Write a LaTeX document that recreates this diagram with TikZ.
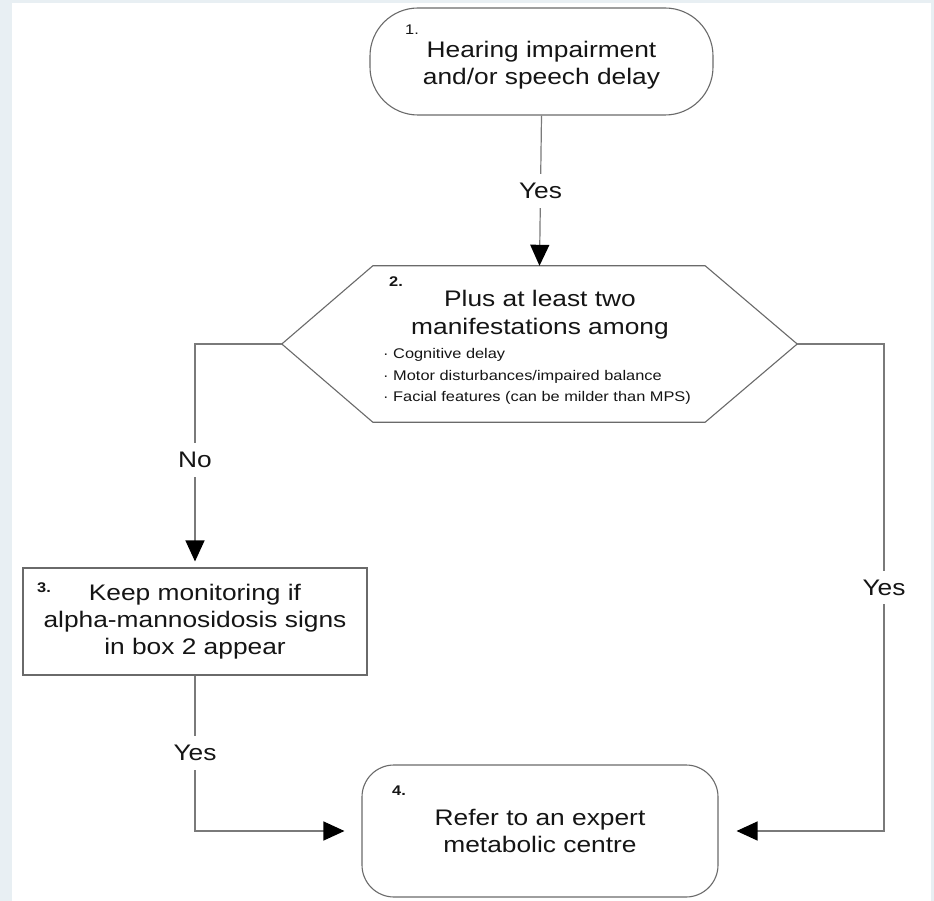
\documentclass[tikz,border=0pt]{standalone}
\usepackage{fontspec}
\setmainfont[FakeStretch=1.17]{Liberation Sans}
\usetikzlibrary{arrows.meta}
\definecolor{bgframe}{HTML}{E8EFF3}
\definecolor{linegray}{HTML}{7A7A7A}
\definecolor{boxgray}{HTML}{6A6A6A}
\definecolor{txt}{HTML}{151515}
\begin{document}
\begin{tikzpicture}[x=1pt,y=-1pt,
  mainfont/.style={font=\fontsize{22.5}{27}\selectfont, text=txt},
  smallfont/.style={font=\fontsize{14}{21}\selectfont, text=txt},
  boxline/.style={draw=boxgray, line width=1.1pt, fill=white},
  conn/.style={draw=linegray, line width=1.2pt},
  arr/.style={conn, -{Triangle[width=19pt,length=21pt,black]}},
  lbl/.style={mainfont, fill=white, inner xsep=2pt, inner ysep=9pt},
  numlbl/.style={font=\fontsize{14}{16}\selectfont\bfseries, text=txt, inner sep=0pt}
]
\fill[bgframe] (0,0) rectangle (934,901);
\fill[white] (12,3) rectangle (931,901);
\useasboundingbox (0,0) rectangle (934,901);

% Box 1
\node[boxline, rounded corners=48pt, minimum width=343pt, minimum height=107pt,
      inner sep=0pt] (b1) at (541.5,61.5) {};
\node[mainfont, align=center, inner sep=0pt] (b1t) at (541.5,65)
      {Hearing impairment\\and/or speech delay};
\node[font=\fontsize{14}{16}\selectfont, text=txt, inner sep=0pt, anchor=base west] (n1) at (405,35) {1.};

% Box 2 (hexagon)
\node[minimum width=515pt, minimum height=156pt, inner sep=0pt] (b2) at (539.5,344) {};
\draw[boxline] (b2.west) -- ([xshift=91pt]b2.north west) -- ([xshift=-92pt]b2.north east)
  -- (b2.east) -- ([xshift=-92pt]b2.south east) -- ([xshift=91pt]b2.south west) -- cycle;
\node[numlbl, anchor=base west] (n2) at (389,287) {2.};
\node[mainfont, anchor=base, inner sep=0pt] (b2ta) at (540,306) {Plus at least two};
\node[mainfont, anchor=base, inner sep=0pt] (b2tb) at (540,334) {manifestations among};
\node[smallfont, anchor=base west, inner sep=0pt] (b2la) at (383,358) {· Cognitive delay};
\node[smallfont, anchor=base west, inner sep=0pt] (b2lb) at (383,380) {· Motor disturbances/impaired balance};
\node[smallfont, anchor=base west, inner sep=0pt] (b2lc) at (383,401) {· Facial features (can be milder than MPS)};

% Box 3
\node[boxline, minimum width=344pt, minimum height=107pt, mainfont, align=center,
      inner sep=0pt] (b3) at (195,621.5)
      {Keep monitoring if\\alpha-mannosidosis signs\\in box 2 appear};
\node[numlbl, anchor=base west] (n3) at (37,592) {3.};

% Box 4
\node[boxline, rounded corners=32pt, minimum width=356pt, minimum height=132pt,
      mainfont, align=center, inner sep=0pt] (b4) at (540,831)
      {Refer to an expert\\metabolic centre};
\node[numlbl, anchor=base west] (n4) at (392,795) {4.};

% Connectors
\draw[arr] (b1.south) -- node[lbl] (y1) {Yes} (b2.north);
\draw[arr, shorten >=6pt] (b2.west) -| node[lbl, pos=0.76] (no) {No} (b3.north);
\draw[arr, shorten >=17pt] (b3.south) |- node[lbl, pos=0.25] (y3) {Yes} (b4.west);
\coordinate (rt) at (884,344);
\draw[arr, shorten >=18pt] (b2.east) -- (rt) |- node[lbl, pos=0.25] (y2) {Yes} (b4.east);
\end{tikzpicture}
\end{document}
